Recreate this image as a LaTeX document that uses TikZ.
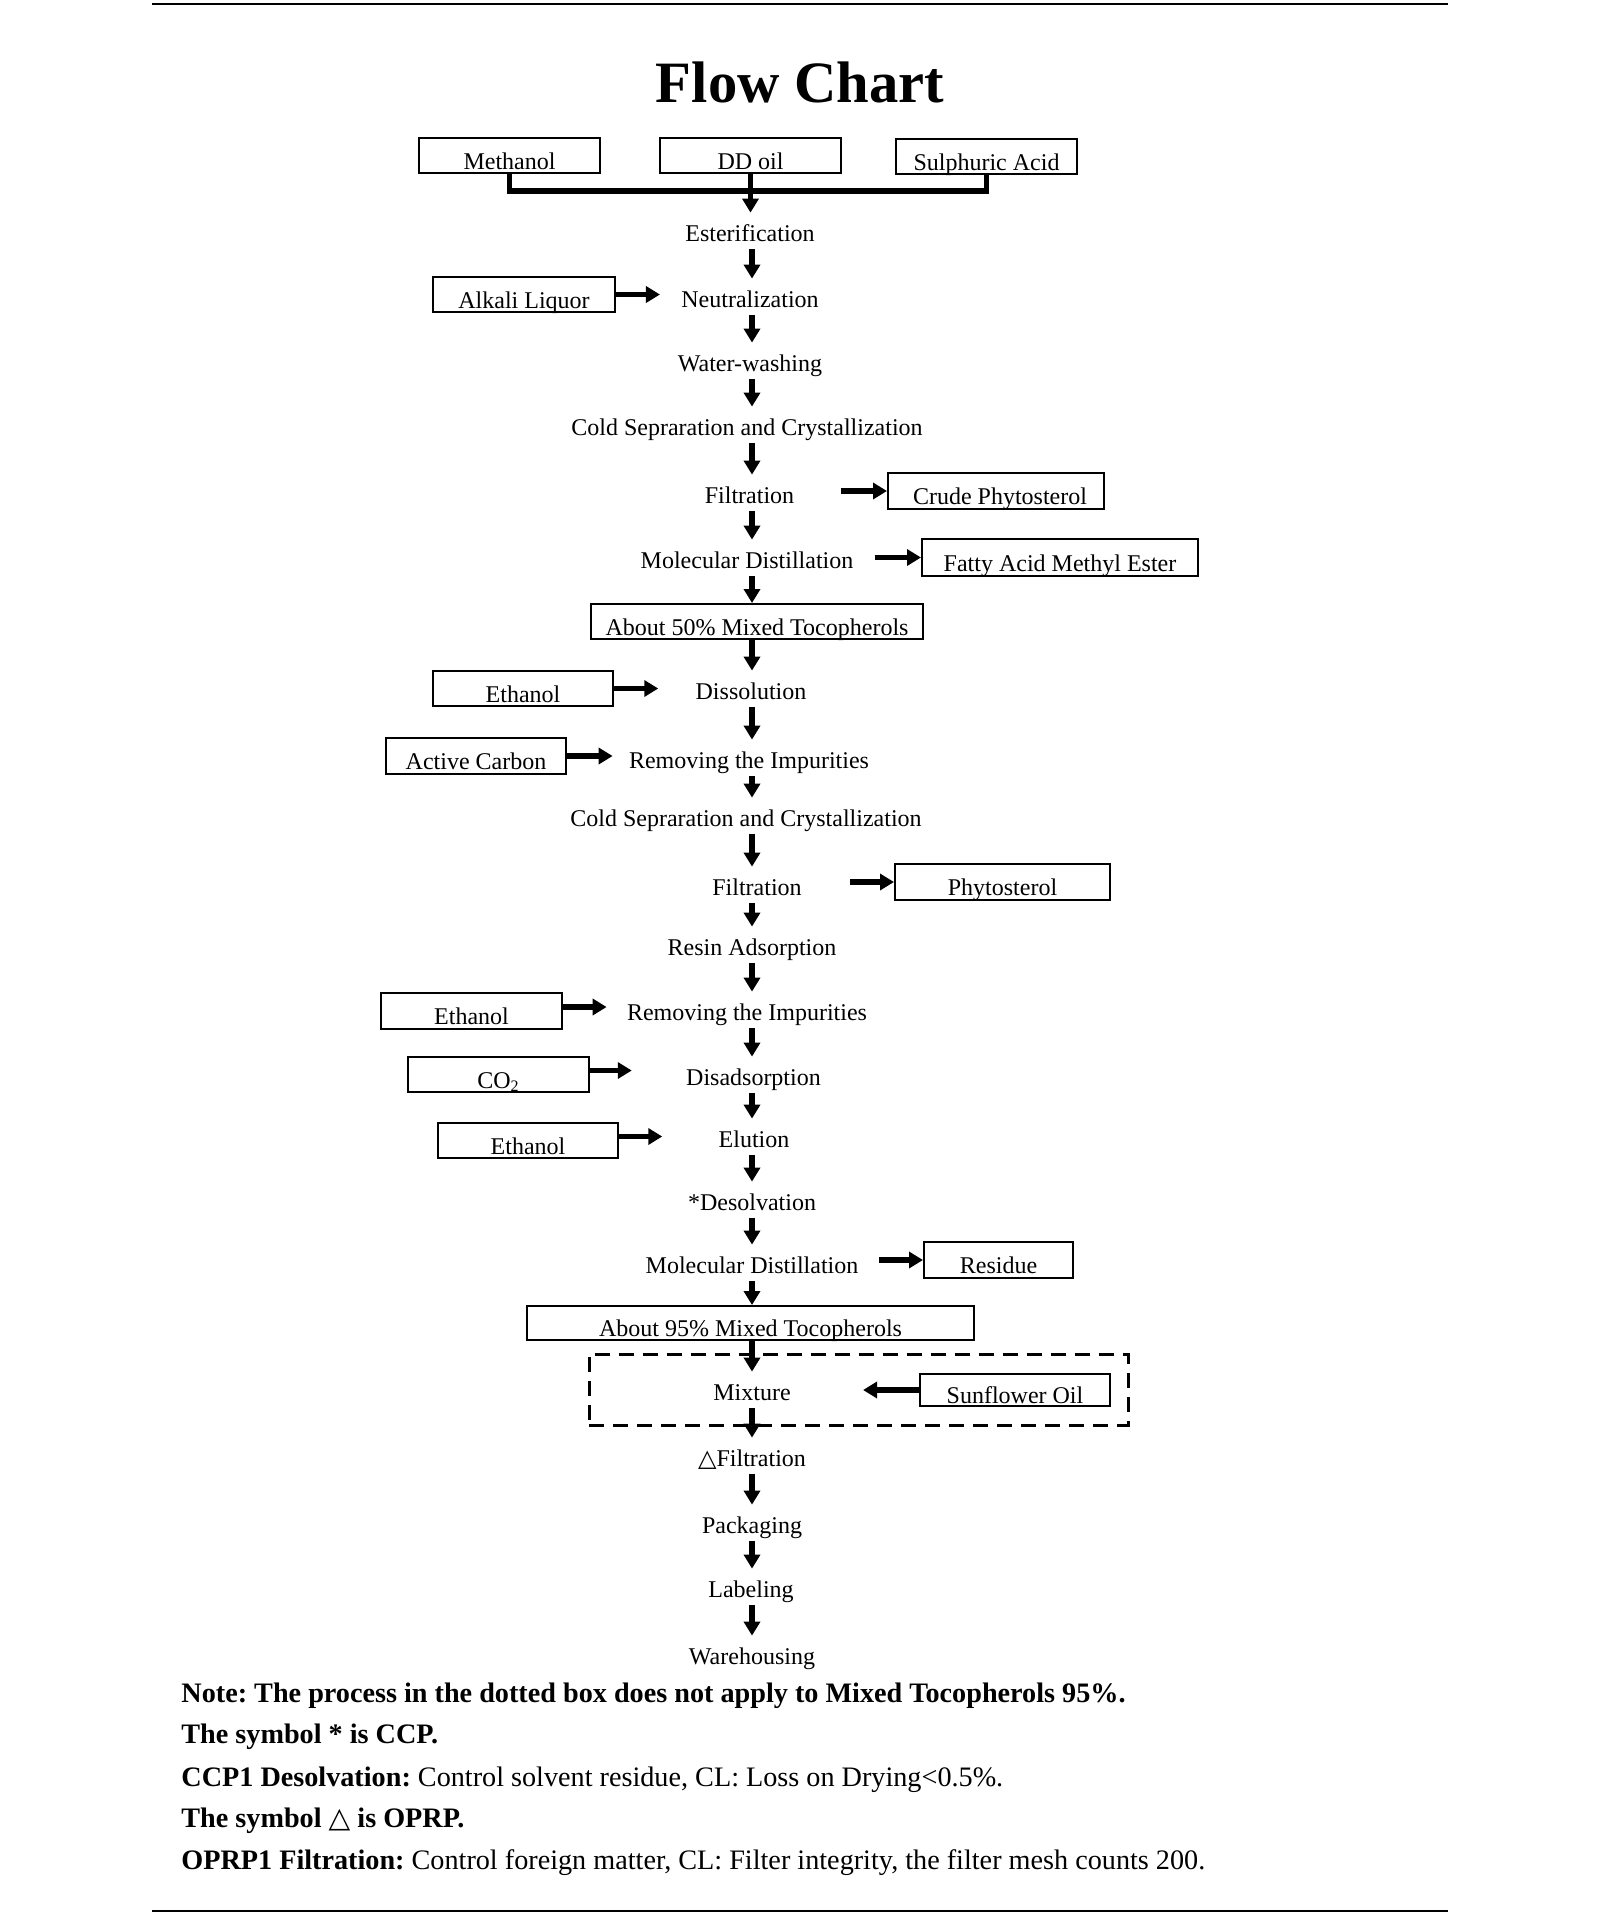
\documentclass[tikz,border=0pt]{standalone}
\usepackage{fontspec}
\setmainfont{Liberation Serif}
\newfontfamily\symf{DejaVu Sans}
\usetikzlibrary{arrows.meta}
\frenchspacing
\begin{document}
\begin{tikzpicture}[x=0.5pt,y=-0.5pt,
  stepnode/.style={font=\fontsize{12}{14}\selectfont, anchor=base, text height=11pt, text depth=1pt, inner xsep=1pt, inner ysep=3pt},
  boxnode/.style={draw, line width=1pt, font=\fontsize{12}{14}\selectfont, text height=13.5pt, text depth=0pt, inner sep=0pt},
  flowarr/.style={line width=2.6pt, -{Triangle[width=8pt,length=7pt]}},
  brk/.style={line width=2.6pt, line join=miter},
  notenode/.style={anchor=base west, inner sep=0pt, font=\fontsize{14.1}{17}\selectfont},
  rulel/.style={line width=1.1pt}]
\useasboundingbox (0,0) rectangle (1600,1917);
\draw[rulel] (152,4) -- (1448,4);
\draw[rulel] (152,1911) -- (1448,1911);
\coordinate (col) at (752,0);
\coordinate (bar) at (0,191);

\node[font=\bfseries\fontsize{29.3}{34}\selectfont, anchor=base, inner sep=0pt] (title) at (800,102) {Flow Chart};

\node[boxnode, minimum width=90.5pt, minimum height=17.5pt] (meth) at (509.5,155.5) {Methanol};
\node[boxnode, minimum width=90.5pt, minimum height=17.5pt] (dd) at (750.5,155.5) {DD oil};
\node[boxnode, minimum width=90.5pt, minimum height=17.5pt] (sulph) at (986.5,156.5) {Sulphuric Acid};

\node[stepnode] (est) at (750,241) {Esterification};
\node[stepnode] (neu) at (750,307) {Neutralization};
\node[stepnode] (wash) at (750,371) {Water-washing};
\node[stepnode] (cold1) at (747,435) {Cold Sepraration and Crystallization};
\node[stepnode] (filt1) at (749.5,503) {Filtration};
\node[stepnode] (md1) at (747,568) {Molecular Distillation};
\node[boxnode, minimum width=166pt, minimum height=17.5pt] (b50) at (757,621.5) {About 50\% Mixed Tocopherols};
\node[stepnode] (diss) at (751,699) {Dissolution};
\node[stepnode] (rem1) at (749,768) {Removing the Impurities};
\node[stepnode] (cold2) at (746,826) {Cold Sepraration and Crystallization};
\node[stepnode] (filt2) at (757,895) {Filtration};
\node[stepnode] (resin) at (752,955) {Resin Adsorption};
\node[stepnode] (rem2) at (747,1020) {Removing the Impurities};
\node[stepnode] (disad) at (753.5,1085) {Disadsorption};
\node[stepnode] (elut) at (754,1147) {Elution};
\node[stepnode] (desolv) at (752,1210) {*Desolvation};
\node[stepnode] (md2) at (752,1273) {Molecular Distillation};
\node[boxnode, minimum width=223.5pt, minimum height=17pt] (b95) at (750.5,1323) {About 95\% Mixed Tocopherols};
\node[stepnode] (mix) at (752,1400) {Mixture};
\node[stepnode] (filt3) at (752,1466) {{\symf △}Filtration};
\node[stepnode] (pack) at (752,1533) {Packaging};
\node[stepnode] (label) at (751,1597) {Labeling};
\node[stepnode] (ware) at (752,1664) {Warehousing};

\node[boxnode, minimum width=91pt, minimum height=17.5pt] (alk) at (524,294.5) {Alkali Liquor};
\node[boxnode, minimum width=108pt, minimum height=18pt] (crude) at (996,491) {\hspace{4pt}Crude Phytosterol};
\node[boxnode, minimum width=138pt, minimum height=18.5pt] (fame) at (1060,557.5) {Fatty Acid Methyl Ester};
\node[boxnode, minimum width=90pt, minimum height=17.5pt] (eth1) at (523,688.5) {Ethanol};
\node[boxnode, minimum width=90pt, minimum height=18pt] (carbon) at (476,756) {Active Carbon};
\node[boxnode, minimum width=107.5pt, minimum height=18pt] (phyto) at (1002.5,882) {Phytosterol};
\node[boxnode, minimum width=90.5pt, minimum height=18pt] (eth2) at (471.5,1011) {Ethanol};
\node[boxnode, minimum width=90.5pt, minimum height=17.5pt] (co2) at (498.5,1074.5) {CO\textsubscript{2}};
\node[boxnode, minimum width=90pt, minimum height=17.5pt] (eth3) at (528,1140.5) {Ethanol};
\node[boxnode, minimum width=74.5pt, minimum height=18pt] (resid) at (998.5,1260) {Residue};
\node[boxnode, minimum width=95pt, minimum height=16pt] (sun) at (1015,1390) {Sunflower Oil};
\node[draw, line width=1.5pt, dash pattern=on 7.5pt off 4.5pt, minimum width=269.5pt, minimum height=35.5pt, inner sep=0pt] (dbox) at (858.5,1389.5) {};

\draw[brk] (meth.south) -- (meth.south |- bar) -- (sulph.south |- bar) -- (sulph.south);
\draw[flowarr] (dd.south) -- (dd.south |- est.north);

\foreach \a/\b in {est/neu, neu/wash, wash/cold1, cold1/filt1, filt1/md1, md1/b50, b50/diss, diss/rem1, rem1/cold2, cold2/filt2, filt2/resin, resin/rem2, rem2/disad, disad/elut, elut/desolv, desolv/md2, md2/b95, b95/mix, mix/filt3, filt3/pack, pack/label, label/ware}
  \draw[flowarr] (\a.south -| col) -- (\b.north -| col);

\draw[flowarr, shorten >=9.5pt] (alk.east) -- (alk.east -| neu.west);
\draw[flowarr, shorten >=17.5pt] (eth1.east) -- (eth1.east -| diss.west);
\draw[flowarr, shorten >=7pt] (carbon.east) -- (carbon.east -| rem1.west);
\draw[flowarr, shorten >=9pt] ([yshift=2pt]eth2.east) -- ([yshift=2pt]eth2.east -| rem2.west);
\draw[flowarr, shorten >=26pt] ([yshift=2pt]co2.east) -- ([yshift=2pt]co2.east -| disad.west);
\draw[flowarr, shorten >=27pt] ([yshift=2pt]eth3.east) -- ([yshift=2pt]eth3.east -| elut.west);

\draw[flowarr, shorten <=22pt] (crude.west -| filt1.east) -- (crude.west);
\draw[flowarr, shorten <=9.5pt] (fame.west -| md1.east) -- (fame.west);
\draw[flowarr, shorten <=23pt] (phyto.west -| filt2.east) -- (phyto.west);
\draw[flowarr, shorten <=9pt] (resid.west -| md2.east) -- (resid.west);
\draw[flowarr, shorten >=35pt] (sun.west) -- (sun.west -| mix.east);

\node[notenode] (n1) at (181,1702) {\textbf{Note: The process in the dotted box does not apply to Mixed Tocopherols 95\%.}};
\node[notenode] (n2) at (181,1743) {\textbf{The symbol * is CCP.}};
\node[notenode] (n3) at (181,1786) {\textbf{CCP1 Desolvation:} Control solvent residue, CL: Loss on Drying<0.5\%.};
\node[notenode] (n4) at (181,1827) {\textbf{The symbol {\symf △} is OPRP.}};
\node[notenode] (n5) at (181,1869) {\textbf{OPRP1 Filtration:} Control foreign matter, CL: Filter integrity, the filter mesh counts 200.};
\end{tikzpicture}
\end{document}
